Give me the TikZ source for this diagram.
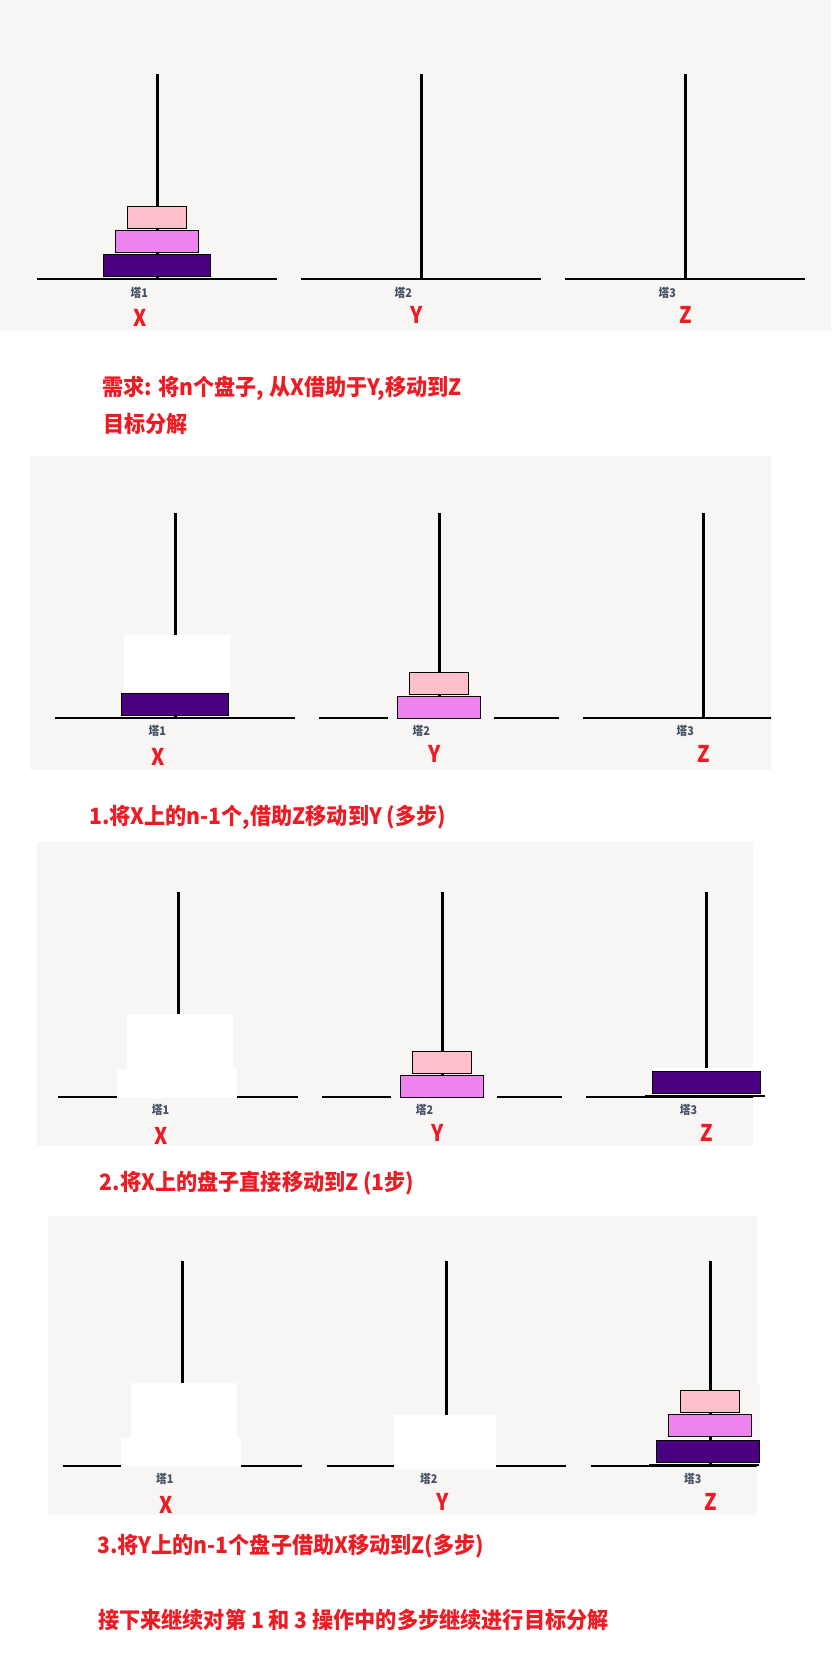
\documentclass[tikz,border=0pt]{standalone}
\usepackage{fontspec}
\setmainfont{Noto Sans CJK SC}
\definecolor{panel}{HTML}{F7F6F4}
\definecolor{redt}{HTML}{ED1C24}
\definecolor{pinkd}{HTML}{FFC0CB}
\definecolor{violetd}{HTML}{EE82EE}
\definecolor{indigod}{HTML}{4B0082}
\definecolor{lab}{HTML}{465063}
\tikzset{
  pole/.style={line width=2.8pt, draw=black},
  baseln/.style={line width=2.2pt, draw=black},
  disk/.style={draw=black, line width=1pt},
  redtxt/.style={text=redt, font=\bfseries\fontsize{22.5}{24}\selectfont, inner sep=0pt, anchor=west},
  letter/.style={text=redt, font=\bfseries\fontsize{23}{25}\selectfont, inner sep=0pt, anchor=base},
  towerlab/.style={text=lab, font=\bfseries\fontsize{12}{14}\selectfont, inner sep=0pt},
  erase/.style={fill=white},
}
\newcommand{\hanoitowers}[1]{%
  \foreach \px in {157.3,421.3,685.3} \draw[pole] (\px,74) -- (\px,280);
  \draw[baseln] (37,279) -- (276.6,279) (301,279) -- (540.5,279) (565,279) -- (804.5,279);
  \node[towerlab] (#1ta) at (139.3,292.5) {\scalebox{.9}[1]{塔1}};
  \node[towerlab] (#1tb) at (403.3,292.5) {\scalebox{.9}[1]{塔2}};
  \node[towerlab] (#1tc) at (667.3,292.5) {\scalebox{.9}[1]{塔3}};
  \node[letter] (#1x) at (140.3,326.3) {\scalebox{.88}[1]{X}};
  \node[letter] (#1y) at (416.8,323.7) {\scalebox{.88}[1]{Y}};
  \node[letter] (#1z) at (685.3,323.7) {\scalebox{.88}[1]{Z}};
}
\newcommand{\redline}[1]{\scalebox{.94}[1]{#1}}
\begin{document}
\begin{tikzpicture}[x=1pt,y=-1pt]
\useasboundingbox (0,0) rectangle (831,1666);
\fill[white] (0,0) rectangle (831,1666);

% ---------- panel 1 ----------
\fill[panel] (0,0) rectangle (831,331);
\hanoitowers{a}
\filldraw[disk,fill=pinkd] (127,206) rectangle (186.7,228.7);
\filldraw[disk,fill=violetd] (115.3,230) rectangle (198.7,252.7);
\filldraw[disk,fill=indigod] (103,254) rectangle (210.7,276.7);

\node[redtxt] (t0) at (102,388) {\redline{需求: 将n个盘子, 从X借助于Y,移动到Z}};
\node[redtxt] (t0b) at (103,424) {\redline{目标分解}};

% ---------- panel 2 ----------
\begin{scope}
  \clip (30,455.7) rectangle (771,770);
  \fill[panel] (30,455.7) rectangle (771,770);
  \begin{scope}[shift={(18,438.7)}]
    \hanoitowers{b}
    \fill[erase] (106,196.3) rectangle (211.5,254.6);
    \filldraw[disk,fill=indigod] (103.4,254.6) rectangle (210.4,277);
    \fill[panel] (370,276) rectangle (476,282);
    \filldraw[disk,fill=pinkd] (391.6,233.6) rectangle (450.5,255.6);
    \filldraw[disk,fill=violetd] (379.5,257.6) rectangle (462.6,279.6);
  \end{scope}
\end{scope}
\node[redtxt] (t1) at (89,817) {\redline{1.将X上的n-1个,借助Z移动到Y (多步)}};

% ---------- panel 3 ----------
\begin{scope}
  \clip (37,842) rectangle (753,1145.7);
  \fill[panel] (37,842) rectangle (753,1145.7);
  \begin{scope}[shift={(21.3,817.7)}]
    \hanoitowers{c}
    \fill[erase] (105.9,196.3) rectangle (211.9,251.3);
    \fill[erase] (95.8,251.3) rectangle (215.6,280.5);
    \fill[panel] (369.7,276) rectangle (475.7,282);
    \filldraw[disk,fill=pinkd] (391,233.6) rectangle (450.3,256);
    \filldraw[disk,fill=violetd] (378.7,257.6) rectangle (462,279.6);
  \end{scope}
\end{scope}
\fill[erase] (652,1068) rectangle (765,1094.5);
\filldraw[disk,fill=indigod] (652.3,1071) rectangle (760,1093.7);
\draw[baseln] (645,1095.6) -- (765,1095.6);
\node[redtxt] (t2) at (99.6,1182.7) {\redline{2.将X上的盘子直接移动到Z (1步)}};

% ---------- panel 4 ----------
\begin{scope}
  \clip (48.2,1215.7) rectangle (756.7,1514.7);
  \fill[panel] (48.2,1215.7) rectangle (756.7,1514.7);
  \begin{scope}[shift={(25.5,1186.7)}]
    \hanoitowers{d}
    \fill[erase] (105.4,196) rectangle (211.4,251);
    \fill[erase] (95.3,251) rectangle (215.6,280.5);
    \fill[erase] (368.2,228.3) rectangle (470.5,282);
  \end{scope}
\end{scope}
\fill[panel] (756,1385) rectangle (760,1466);
\filldraw[disk,fill=pinkd] (680.3,1390.3) rectangle (739.5,1412.5);
\filldraw[disk,fill=violetd] (668.3,1414.3) rectangle (751.7,1436.5);
\filldraw[disk,fill=indigod] (656.3,1440) rectangle (759.3,1462.3);
\draw[baseln] (649,1464.8) -- (759.3,1464.8);
\node[redtxt] (t3) at (97,1545.7) {\redline{3.将Y上的n-1个盘子借助X移动到Z(多步)}};
\node[redtxt] (t4) at (98,1620) {\redline{接下来继续对第 1 和 3 操作中的多步继续进行目标分解}};
\end{tikzpicture}
\end{document}
